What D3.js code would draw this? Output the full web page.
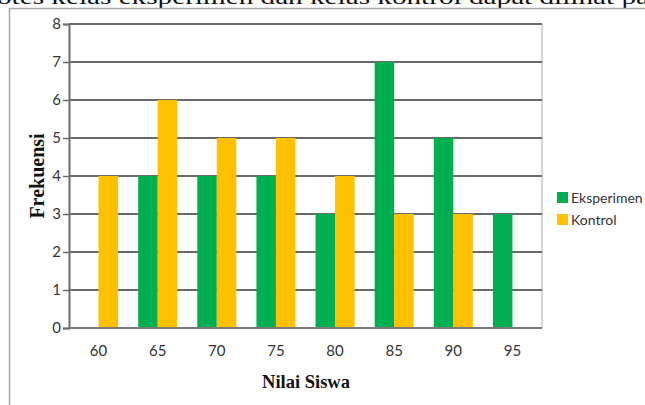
<!DOCTYPE html>
<html>
<head>
<meta charset="utf-8">
<script src="https://cdn.jsdelivr.net/npm/d3@7"></script>
<style>
  html, body { margin: 0; padding: 0; background: #fff; }
  svg { display: block; }
</style>
</head>
<body>
<svg id="chart" width="645" height="405"></svg>
<script>
// Frequency of student scores per class
const categories = ["60", "65", "70", "75", "80", "85", "90", "95"];
const eksperimen = [0, 4, 4, 4, 3, 7, 5, 3];
const kontrol    = [4, 6, 5, 5, 4, 3, 3, 0];
const seriesNames = ["Eksperimen", "Kontrol"];
const seriesColors = ["#00B050", "#FFC000"];
const yTicks = [0, 1, 2, 3, 4, 5, 6, 7, 8];

const svg = d3.select("#chart");
const W = 645, H = 405;
const m = { left: 69, right: 103, top: 24, bottom: 77 };
const pw = W - m.left - m.right;
const ph = H - m.top - m.bottom;
const tickFont = "Lato, 'Open Sans', sans-serif";
const titleFont = "'Liberation Serif', 'Times New Roman', serif";

// Running text line above the figure, clipped by the page edge
svg.append("text")
  .attr("x", -3).attr("y", 4)
  .attr("font-family", titleFont)
  .attr("font-size", 20)
  .attr("fill", "#111")
  .attr("textLength", 652)
  .attr("lengthAdjust", "spacingAndGlyphs")
  .text("otes kelas eksperimen dan kelas kontrol dapat dilihat pa");

// Outer frame of the figure
svg.append("rect")
  .attr("x", 9.5).attr("y", 8.5)
  .attr("width", 700).attr("height", 420)
  .attr("fill", "none")
  .attr("stroke", "#a8a8a8").attr("stroke-width", 1.5);

const g = svg.append("g").attr("transform", `translate(${m.left},${m.top})`);

const x0 = d3.scaleBand().domain(categories).range([0, pw]).paddingInner(0.34).paddingOuter(0.17);
const x1 = d3.scaleBand().domain(seriesNames).range([0, x0.bandwidth()]);
const y = d3.scaleLinear().domain([0, 8]).range([ph, 0]);

// Right border of the plot area
g.append("line")
  .attr("x1", pw).attr("x2", pw).attr("y1", 0).attr("y2", ph)
  .attr("stroke", "#c8c8c8").attr("stroke-width", 1.5);

// Horizontal gridlines
g.append("g")
  .selectAll("line")
  .data(yTicks.filter(d => d > 0))
  .join("line")
  .attr("x1", 0).attr("x2", pw)
  .attr("y1", d => y(d)).attr("y2", d => y(d))
  .attr("stroke", "#6a6a6a").attr("stroke-width", 2);

// Bars
const values = [eksperimen, kontrol];
categories.forEach((c, i) => {
  seriesNames.forEach((s, j) => {
    const v = values[j][i];
    if (v <= 0) return;
    g.append("rect")
      .attr("x", x0(c) + x1(s))
      .attr("y", y(v))
      .attr("width", x1.bandwidth())
      .attr("height", y(0) - y(v))
      .attr("fill", seriesColors[j]);
  });
});

// Y axis
const yAxis = g.append("g")
  .call(d3.axisLeft(y).tickValues(yTicks).tickSize(6).tickPadding(2).tickFormat(d3.format("d")));
yAxis.select(".domain").attr("stroke", "#6a6a6a").attr("stroke-width", 2);
yAxis.selectAll(".tick line").attr("stroke", "#6a6a6a").attr("stroke-width", 1.5);
yAxis.selectAll("text")
  .attr("font-family", tickFont)
  .attr("font-size", 15).attr("fill", "#333");

// X axis baseline and category labels
g.append("line")
  .attr("x1", 0).attr("x2", pw).attr("y1", ph).attr("y2", ph)
  .attr("stroke", "#7a7a7a").attr("stroke-width", 2);
const xAxis = g.append("g").attr("transform", `translate(0,${ph})`)
  .call(d3.axisBottom(x0).tickSize(0).tickPadding(17));
xAxis.select(".domain").remove();
xAxis.selectAll("text")
  .attr("font-family", tickFont)
  .attr("font-size", 15).attr("fill", "#333");

// Axis titles
svg.append("text")
  .attr("transform", "translate(44,176) rotate(-90)")
  .attr("text-anchor", "middle")
  .attr("font-family", titleFont)
  .attr("font-weight", "bold").attr("font-size", 20).attr("fill", "#111")
  .text("Frekuensi");
svg.append("text")
  .attr("x", 306).attr("y", 388)
  .attr("text-anchor", "middle")
  .attr("font-family", titleFont)
  .attr("font-weight", "bold").attr("font-size", 18.5).attr("fill", "#111")
  .text("Nilai Siswa");

// Legend
const lg = svg.append("g").attr("transform", "translate(557,192)");
seriesNames.forEach((s, j) => {
  const row = lg.append("g").attr("transform", `translate(0,${j * 22})`);
  row.append("rect").attr("width", 11).attr("height", 11).attr("fill", seriesColors[j]);
  row.append("text").attr("x", 14).attr("y", 11)
    .attr("font-family", tickFont)
    .attr("font-size", 14).attr("fill", "#333")
    .text(s);
});
</script>
</body>
</html>
